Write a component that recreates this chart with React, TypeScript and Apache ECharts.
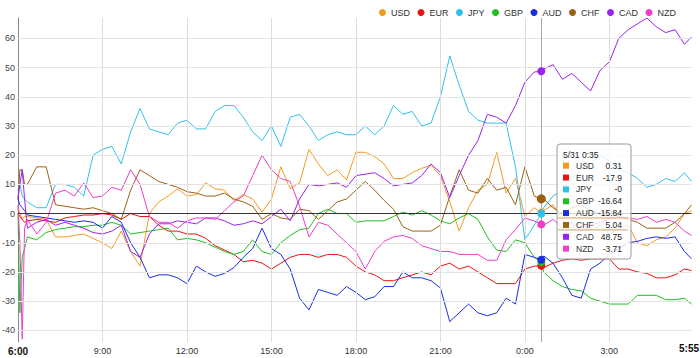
import React, { useEffect, useRef } from 'react';
import * as echarts from 'echarts';

const NAMES = ['USD', 'EUR', 'JPY', 'GBP', 'AUD', 'CHF', 'CAD', 'NZD'];
const COLORS = ['#f39a1e', '#ee1111', '#2fc0ee', '#1fbf1f', '#1a2ee0', '#9a6114', '#9a22f0', '#f03cc6'];

const TIMES = [
  '6:00', '6:04', '6:09', '6:14',
  '6:20', '6:40', '7:00', '7:20', '7:40', '8:00', '8:20', '8:40', '9:00', '9:20', '9:40', '10:00', '10:20', '10:40', '11:00', '11:20', '11:40',
  '12:00', '12:20', '12:40', '13:00', '13:20', '13:40', '14:00', '14:20', '14:40', '15:00', '15:20', '15:40', '16:00', '16:20', '16:40', '17:00', '17:20', '17:40', '18:00',
  '18:20', '18:40', '19:00', '19:20', '19:40', '20:00', '20:20', '20:40', '21:00', '21:20', '21:40', '22:00', '22:20', '22:40', '23:00', '23:20', '23:40', '0:00', '0:20',
  '0:35',
  '0:40', '1:00', '1:20', '1:40', '2:00', '2:20', '2:40', '3:00', '3:20', '3:40', '4:00', '4:20', '4:40', '5:00', '5:20', '5:40',
  '5:55',
];

const USD = [
  2, 0, -2, -1,
  -1, -1.5, -2, -8, -8, -7.5, -7, -8.5, -10, -12, -6, -13, -18, 0, 4, 6, 8.5,
  6, 6.5, 10.5, 8.5, 8, 4.5, 6.5, 5, 0.5, 5, 16, 8.5, 10.5, 22, 17, 13, 15, 11.5, 21,
  21, 19.5, 17, 12, 12, 14, 15.5, 16.5, 13, 4, -6, 2, 8, 10, 21, 7, 12, -1, 2,
  0.31,
  1, 3, -2, -5, -3, -6, -4, -7, -5, -4, -10, -11, -9, -8, -5, 0,
  1,
];
const EUR = [
  0, -1, -2, -3,
  -2.5, -2, -2.5, -3, -1.5, -1, -0.5, -0.5, 0, -0.5, -2, 0, -1, -1, -4, -6, -6,
  -7, -7, -8.5, -11, -12.5, -14, -16.5, -16, -17, -19, -17, -15, -14, -14, -15, -14, -14, -15, -18,
  -20, -21, -23, -23, -22, -21, -20, -21, -18, -17, -19, -18, -20, -22, -24, -24, -24, -19, -18,
  -17.9,
  -18.5, -17, -16, -15.5, -16, -15.5, -15.5, -15.5, -19, -19, -20, -20.5, -22, -22, -21, -19,
  -19.5,
];
const JPY = [
  8, 10, 6, 5,
  4, 2, 2, 10, 10, 9, 6, 20, 22, 23, 17, 28, 36, 29, 28, 27, 31,
  32, 29, 29, 35, 37, 37, 33, 28, 25, 30, 23, 33, 34, 30, 25, 27, 28, 27, 27,
  30, 27, 30, 37, 34, 35, 30, 31, 40, 54, 44, 35, 32, 31, 31, 31, 16, -9, -4,
  -0,
  2, 6, 8, 12, 15, 17, 20, 18, 15, 14, 12, 9, 10, 12, 11, 14,
  11,
];
const GBP = [
  0, -34, -15, -12,
  -8, -9, -6.5, -5.5, -5, -4.5, -4.5, -4, -4, -3, -4, -7, -6.5, -6, -5.5, -5, -9,
  -8.5, -9, -10, -11.5, -13, -14, -13, -9, -13, -14, -10, -7.5, -5.5, -5, 0, 1.5, 0, 0, -3,
  -2.5, -2.5, -2.5, -1, 0.5, -0.5, 1, -0.5, -2.5, -3.5, -1.5, 0, -2, -8, -12.5, -13, -9, -10, -15,
  -16.64,
  -20, -23, -25, -26, -26.5, -29, -30, -31, -31, -31, -28, -28, -28, -29.5, -29.5, -29,
  -31,
];
const AUD = [
  5, 3, 2, 1,
  -0.5, -1, -1.5, -2, -2.5, -3, -2.5, -3, -5, -1, -3, -10, -15, -22, -21, -21, -22,
  -24, -18, -20, -21.5, -20.5, -18.5, -15, -12, -5, -12, -14, -19, -29, -33, -26, -27, -28, -25, -27,
  -29.5, -28.5, -25, -25, -20, -22, -22, -23, -25.5, -37, -34, -31, -34, -35, -34, -29, -31, -14, -15,
  -15.84,
  -14.5, -17, -22, -28, -29, -19, -17, -14, -12, -10, -9.5, -8.5, -8, -8.5, -8, -13,
  -15.5,
];
const CHF = [
  5, 15, 15, 10,
  10, 16, 16, 3, 2.5, 2, 1.5, 2, 1, 0, -2, 8, 15, 13, 11, 10, 9,
  7.5, 7, 6, 6, 7, 5, 4, 2.5, -2, 0, -1.5, -2, 1.5, 1, -2, 1, 4, 5, 8,
  11, 8, 4.5, 1.5, -4.5, -6, -6, -6, -4, 6, 15, 8, 7, 12, 8, 9, 3, 16, 6,
  5.04,
  5, 2, 0, 2, 3, 1, 0, 1, -1, -2, -3, -5, -5, -5, -3, 0,
  3,
];
const CAD = [
  5, 10, 15, 5,
  -5, -3, -2, -4, -3, -4, -5, -6.5, -7, -6, -4, -13, -15, -7, -3.5, -3.5, -2.5,
  -3, -3.5, -1.5, -1.5, -2.5, -4, -3.5, -2.5, -3.5, -1, 1.5, -2.5, 5, 10, 9.5, 10, 10.5, 9, 13,
  13.5, 14, 12, 9.5, 10, 10.5, 13, 17, 14, 5.5, 13, 20, 25, 34, 33, 31, 37, 45, 48.5,
  48.75,
  49.5, 51, 46, 48, 45, 42, 49, 52, 60, 63, 65, 67, 64, 62, 63, 58,
  60.5,
];
const NZD = [
  3, -10, -43, -5,
  -2, -7, -3, 7, 8, 6, 10.5, 5.5, 6, 9, 8, 15, 10, -1, -3, -3, -5,
  -2.5, -1.5, -1.5, -2, 1, 4, 6, 13, 20, 15, 12, 11, 2.5, -8, -3, -4, -7, -10, -13,
  -19, -13, -9.5, -8, -7.5, -8.5, -11, -12, -13, -13, -14, -14, -14, -16, -16, -9, -5.5, -1.5, -2.5,
  -3.71,
  -4, -2, -5, -3, -6, -4, -3, -2, -1, -1.5, -2, -1, -3, -2, -3, -6,
  -7.5,
];

const VALUES = [USD, EUR, JPY, GBP, AUD, CHF, CAD, NZD];
const Y_GRID = [-40, -30, -20, -10, 10, 20, 30, 40, 50, 60];
const X_GRID = ['9:00', '12:00', '15:00', '18:00', '21:00', '0:00', '3:00'];
const TIP_TIME = '0:35';
const TIP_TITLE = '5/31 0:35';
const HILITE = 'CHF';

const toMin = (s: string) => {
  const [h, m] = s.split(':').map(Number);
  let v = h * 60 + m - 360;
  if (v < 0) v += 1440;
  return v;
};
const fmtMin = (v: number) => {
  const m = (Math.round(v) + 360) % 1440;
  return `${Math.floor(m / 60)}:${String(m % 60).padStart(2, '0')}`;
};
const fmtVal = (v: number) => (Object.is(v, -0) ? '-0' : String(v));

const FONT = '"Liberation Sans", Arial, sans-serif';

export default function App() {
  const ref = useRef<HTMLDivElement>(null);
  useEffect(() => {
    if (!ref.current) return;
    const chart = echarts.init(ref.current, undefined, { renderer: 'svg' });
    const T = TIMES.map(toMin);
    const tipIdx = TIMES.indexOf(TIP_TIME);
    const tipT = T[tipIdx];
    const endT = T[T.length - 1];

    const series: any[] = [
      {
        type: 'line',
        data: [[0, 0]],
        showSymbol: false,
        lineStyle: { width: 0, opacity: 0 },
        silent: true,
        z: 0,
        markLine: {
          silent: true,
          symbol: ['none', 'none'],
          label: { show: false },
          animation: false,
          data: [
            ...Y_GRID.map((v) => ({ yAxis: v, lineStyle: { color: '#e3e3e3', width: 1, type: 'solid' } })),
            ...X_GRID.map((s) => ({ xAxis: toMin(s), lineStyle: { color: '#dcdcdc', width: 1, type: 'solid' } })),
            { yAxis: 0, lineStyle: { color: '#333', width: 1, type: 'solid' } },
            { xAxis: tipT, lineStyle: { color: '#a8a8a8', width: 1, type: 'solid' } },
          ],
        },
      },
      ...NAMES.map((name, i) => ({
        name,
        type: 'line',
        z: 2,
        data: T.map((t, j) => [t, VALUES[i][j]]),
        showSymbol: false,
        symbol: 'circle',
        lineStyle: { width: 1, color: COLORS[i] },
        itemStyle: { color: COLORS[i] },
        silent: true,
        markPoint: {
          symbol: 'circle',
          symbolSize: name === HILITE ? 9 : 8,
          silent: true,
          label: { show: false },
          itemStyle: { color: COLORS[i] },
          data: [{ coord: [tipT, VALUES[i][tipIdx]] }],
        },
      })),
    ];

    const rowY0 = 21.7;
    const rowStep = 11.85;
    const hiIdx = NAMES.indexOf(HILITE);
    const Z = 100;
    const TF = `8.5px ${FONT}`;
    const tipChildren: any[] = [
      {
        type: 'rect',
        z: Z,
        shape: { x: 0, y: 0, width: 74, height: 115, r: 3 },
        style: { fill: 'rgba(255,255,255,0.8)', stroke: '#9a9a9a', lineWidth: 1 },
      },
      {
        type: 'text',
        z: Z + 1,
        x: 6,
        y: 11,
        style: { text: TIP_TITLE, font: TF, fill: '#222', verticalAlign: 'middle' },
      },
      {
        type: 'line',
        z: Z + 1,
        shape: { x1: 1, y1: rowY0 + rowStep * hiIdx - 7, x2: 71, y2: rowY0 + rowStep * hiIdx - 7 },
        style: { stroke: '#d9a060', lineWidth: 1 },
      },
      {
        type: 'line',
        z: Z + 1,
        shape: { x1: 1, y1: rowY0 + rowStep * hiIdx + 5, x2: 71, y2: rowY0 + rowStep * hiIdx + 5 },
        style: { stroke: '#c9a36a', lineWidth: 1 },
      },
    ];
    NAMES.forEach((name, i) => {
      const cy = rowY0 + rowStep * i;
      tipChildren.push(
        { type: 'rect', z: Z + 1, shape: { x: 6, y: cy - 3, width: 6, height: 6 }, style: { fill: COLORS[i] } },
        {
          type: 'text',
          z: Z + 1,
          x: 19,
          y: cy,
          style: { text: name, font: TF, fill: '#333', verticalAlign: 'middle' },
        },
        {
          type: 'text',
          z: Z + 1,
          x: 65,
          y: cy,
          style: {
            text: fmtVal(VALUES[i][tipIdx]),
            font: TF,
            fill: '#222',
            align: 'right',
            verticalAlign: 'middle',
          },
        }
      );
    });

    chart.setOption({
      animation: false,
      backgroundColor: '#fff',
      textStyle: { fontFamily: FONT },
      grid: { left: 18, right: 8.5, top: 18, bottom: 16, containLabel: false, outerBoundsMode: 'none' },
      legend: {
        data: NAMES,
        icon: 'circle',
        itemWidth: 7,
        itemHeight: 7,
        itemGap: 7.5,
        right: 19,
        top: 3,
        textStyle: { fontSize: 9, color: '#333', fontFamily: FONT },
      },
      xAxis: {
        type: 'value',
        min: 0,
        max: endT,
        interval: 180,
        axisLine: { show: false },
        axisTick: { show: false },
        splitLine: { show: false },
        axisLabel: {
          margin: 4,
          fontSize: 9,
          color: '#333',
          fontFamily: FONT,
          showMaxLabel: false,
          formatter: (v: number) => {
            const s = fmtMin(v);
            return v === 0 ? `{b|${s}}` : s;
          },
          rich: { b: { fontWeight: 'bold', fontSize: 10, color: '#111', fontFamily: FONT } },
        },
      },
      yAxis: {
        type: 'value',
        min: -44,
        max: 67,
        splitNumber: 10,
        axisLine: { show: true, lineStyle: { color: '#888', width: 1 } },
        axisTick: { show: false },
        splitLine: { show: false },
        axisLabel: {
          margin: 3,
          fontSize: 9,
          color: '#444',
          fontFamily: FONT,
          showMinLabel: false,
          showMaxLabel: false,
        },
      },
      series,
      graphic: [
        { type: 'group', x: 557, y: 144, children: tipChildren },
        {
          type: 'text',
          right: 1,
          top: 343,
          style: { text: fmtMin(endT), font: `bold 10px ${FONT}`, fill: '#111' },
        },
      ],
    });
    return () => chart.dispose();
  }, []);
  return <div ref={ref} style={{ position: 'fixed', left: 0, top: 0, width: 700, height: 358 }} />;
}
